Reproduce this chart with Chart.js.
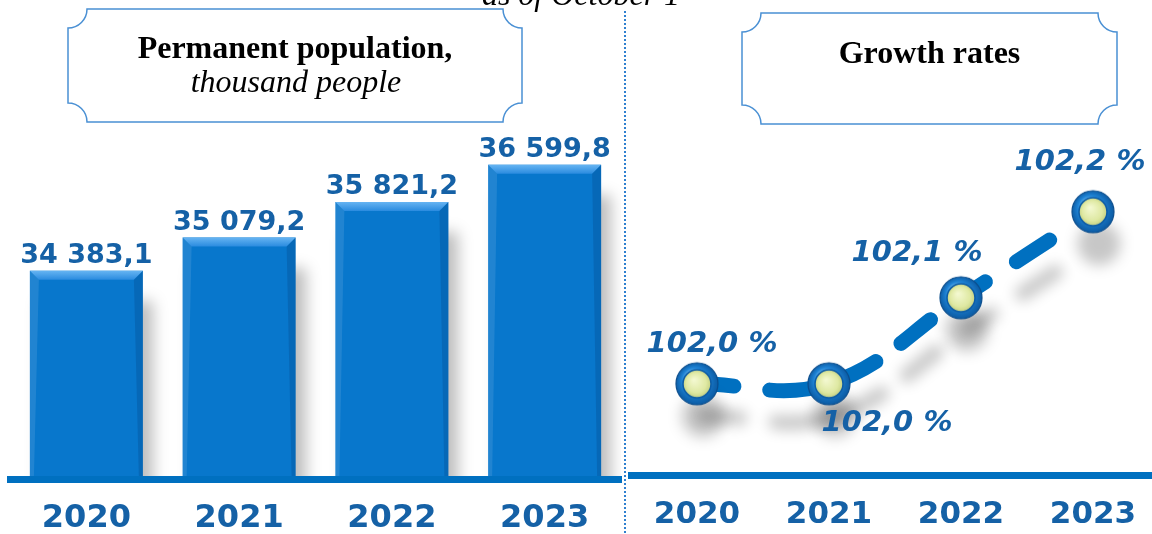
<!DOCTYPE html>
<html>
<head>
<meta charset="utf-8">
<script src="https://cdn.jsdelivr.net/npm/chart.js@4/dist/chart.umd.min.js"></script>
<style>
  html, body { margin: 0; padding: 0; background: #fff; width: 1152px; height: 534px; overflow: hidden; }
  #wrap { position: relative; width: 1152px; height: 534px; overflow: hidden; }
  #popChart { position: absolute; left: 0; top: 0; }
  #rateChart { position: absolute; left: 591px; top: 0; }
  #frame { position: absolute; left: 0; top: 0; pointer-events: none; }
</style>
</head>
<body>
<div id="wrap">
  <canvas id="popChart" width="625" height="559"></canvas>
  <canvas id="rateChart" width="608" height="554"></canvas>
  <svg id="frame" width="1152" height="534">
    <text x="581" y="5" font-family="Liberation Serif" font-style="italic" font-size="32" text-anchor="middle" fill="#000">as of October 1</text>
    <line x1="625" y1="11" x2="625" y2="534" stroke="#2f80cf" stroke-width="2" stroke-dasharray="2 2"/>
    <path d="M87,9 L503,9 A19,19 0 0 0 522,28 L522,103 A19,19 0 0 0 503,122 L87,122 A19,19 0 0 0 68,103 L68,28 A19,19 0 0 0 87,9 Z"
          fill="#fff" stroke="#4a90d4" stroke-width="1.5"/>
    <text x="295" y="58" font-family="Liberation Serif" font-weight="bold" font-size="32" text-anchor="middle" fill="#000">Permanent population,</text>
    <text x="296" y="92" font-family="Liberation Serif" font-style="italic" font-size="32" text-anchor="middle" fill="#000">thousand people</text>
    <path d="M761,13 L1098,13 A19,19 0 0 0 1117,32 L1117,105 A19,19 0 0 0 1098,124 L761,124 A19,19 0 0 0 742,105 L742,32 A19,19 0 0 0 761,13 Z"
          fill="#fff" stroke="#4a90d4" stroke-width="1.5"/>
    <text x="929.5" y="63" font-family="Liberation Serif" font-weight="bold" font-size="32" text-anchor="middle" fill="#000">Growth rates</text>
  </svg>
</div>
<script>
const years = ["2020", "2021", "2022", "2023"];
const population = [34383.1, 35079.2, 35821.2, 36599.8]; // thousand people
const growthRates = [102.0, 102.0, 102.1, 102.2]; // percent

const labelBlue = "#1561a6";
const lineBlue = "#0070c0";

function fmtPop(v) {
  const parts = v.toFixed(1).split(".");
  return parts[0].replace(/\B(?=(\d{3})+(?!\d))/g, " ") + "," + parts[1];
}
function fmtRate(v) {
  return v.toFixed(1).replace(".", ",") + " %";
}

// soft drop shadow under whatever the dataset draws
const dropShadow = {
  id: "dropShadow",
  beforeDatasetDraw(chart, args, opts) {
    const ctx = chart.ctx;
    ctx.save();
    ctx.shadowColor = opts.color;
    ctx.shadowBlur = opts.blur;
    ctx.shadowOffsetX = opts.x;
    ctx.shadowOffsetY = opts.y;
  },
  afterDatasetDraw(chart) {
    chart.ctx.restore();
  }
};

// bevelled edges on the bars + value captions
const barDecor = {
  id: "barDecor",
  afterDatasetsDraw(chart) {
    const ctx = chart.ctx;
    const floor = chart.chartArea.bottom;
    chart.getDatasetMeta(0).data.forEach((bar, i) => {
      const l = bar.x - bar.width / 2, r = bar.x + bar.width / 2;
      const t = bar.y, b = Math.min(bar.base, floor), d = 9;
      ctx.save();
      let g = ctx.createLinearGradient(0, t, 0, t + d);
      g.addColorStop(0, "#66b4f2");
      g.addColorStop(1, "#2a8bdf");
      ctx.beginPath();
      ctx.moveTo(l, t); ctx.lineTo(r, t); ctx.lineTo(r - d, t + d); ctx.lineTo(l + d, t + d);
      ctx.closePath();
      ctx.fillStyle = g;
      ctx.fill();
      ctx.beginPath();
      ctx.moveTo(l, t); ctx.lineTo(l + d, t + d); ctx.lineTo(l + 4, b); ctx.lineTo(l, b);
      ctx.closePath();
      ctx.fillStyle = "rgba(255,255,255,0.10)";
      ctx.fill();
      ctx.beginPath();
      ctx.moveTo(r, t); ctx.lineTo(r - d, t + d); ctx.lineTo(r - 4, b); ctx.lineTo(r, b);
      ctx.closePath();
      ctx.fillStyle = "rgba(0,40,90,0.18)";
      ctx.fill();
      ctx.font = "bold 27px 'DejaVu Sans'";
      ctx.fillStyle = labelBlue;
      ctx.textAlign = "center";
      ctx.textBaseline = "alphabetic";
      ctx.fillText(fmtPop(population[i]), bar.x, t - 8);
      ctx.restore();
    });
  }
};

// where each rate caption sits relative to its point
const rateLabelShift = [[15, -39], [58, 40], [-44, -44], [-13, -49]];

// dash pattern restarts on every segment between two years
const segmentDash = [[37, 36, 300], [52, 31, 38, 300], [29, 37, 40, 300]];

const rateLabels = {
  id: "rateLabels",
  afterDatasetsDraw(chart) {
    const ctx = chart.ctx;
    ctx.save();
    ctx.font = "italic bold 29px 'DejaVu Sans'";
    ctx.fillStyle = labelBlue;
    ctx.textAlign = "center";
    ctx.textBaseline = "middle";
    chart.getDatasetMeta(0).data.forEach((pt, i) => {
      const s = rateLabelShift[i];
      ctx.fillText(fmtRate(growthRates[i]), pt.x + s[0], pt.y + s[1]);
    });
    ctx.restore();
  }
};

function makeMarker() {
  const c = document.createElement("canvas");
  c.width = 46;
  c.height = 46;
  const g = c.getContext("2d");
  const cx = 23, cy = 23;
  let grad = g.createRadialGradient(cx - 6, cy - 8, 2, cx, cy, 22);
  grad.addColorStop(0, "#8ccaf5");
  grad.addColorStop(0.5, "#1f84d6");
  grad.addColorStop(1, "#0a58a0");
  g.beginPath();
  g.arc(cx, cy, 21, 0, Math.PI * 2);
  g.fillStyle = grad;
  g.fill();
  g.lineWidth = 1.2;
  g.strokeStyle = "#0b4d8c";
  g.stroke();
  grad = g.createRadialGradient(cx - 3, cy - 4, 1, cx, cy, 14);
  grad.addColorStop(0, "#f3f8cf");
  grad.addColorStop(0.7, "#dfe9a3");
  grad.addColorStop(1, "#c6d283");
  g.beginPath();
  g.arc(cx, cy, 14, 0, Math.PI * 2);
  g.fillStyle = grad;
  g.fill();
  g.lineWidth = 1.5;
  g.strokeStyle = "#0d5ca6";
  g.stroke();
  return c;
}

new Chart(document.getElementById("popChart"), {
  type: "bar",
  data: {
    labels: years,
    datasets: [{
      data: population,
      backgroundColor: "#0877cc",
      borderWidth: 0,
      categoryPercentage: 1,
      barPercentage: 0.74,
      clip: 0
    }]
  },
  options: {
    responsive: false,
    animation: false,
    layout: { padding: { left: 10, right: 4, top: 50, bottom: 0 } },
    plugins: {
      legend: { display: false },
      tooltip: { enabled: false },
      dropShadow: { color: "rgba(0,0,0,0.26)", blur: 14, x: 10, y: 30 }
    },
    scales: {
      x: {
        grid: { display: false, drawTicks: false },
        border: { display: true, color: lineBlue, width: 7, z: 1 },
        ticks: {
          color: labelBlue,
          padding: 24,
          maxRotation: 0,
          font: { family: "DejaVu Sans", weight: "bold", size: 32, lineHeight: 1 }
        }
      },
      y: { display: false, min: 30030, max: 39000 }
    }
  },
  plugins: [dropShadow, barDecor]
});

new Chart(document.getElementById("rateChart"), {
  type: "line",
  data: {
    labels: years,
    datasets: [{
      data: growthRates,
      borderColor: lineBlue,
      borderWidth: 15,
      borderCapStyle: "round",
      segment: {
        borderDash: (ctx) => segmentDash[ctx.p0DataIndex],
        borderDashOffset: 0
      },
      tension: 0.4,
      fill: false,
      pointStyle: makeMarker(),
      pointRadius: 21
    }]
  },
  options: {
    responsive: false,
    animation: false,
    layout: { padding: { left: 40, right: 40, top: 50, bottom: 0 } },
    plugins: {
      legend: { display: false },
      tooltip: { enabled: false },
      dropShadow: { color: "rgba(0,0,0,0.22)", blur: 14, x: 6, y: 32 }
    },
    scales: {
      x: {
        offset: true,
        grid: { display: false, drawTicks: false },
        border: { display: true, color: lineBlue, width: 7, z: 1 },
        ticks: {
          color: labelBlue,
          padding: 24,
          maxRotation: 0,
          font: { family: "DejaVu Sans", weight: "bold", size: 31, lineHeight: 1 }
        }
      },
      y: { display: false, min: 101.894, max: 102.388 }
    }
  },
  plugins: [dropShadow, rateLabels]
});
</script>
</body>
</html>
